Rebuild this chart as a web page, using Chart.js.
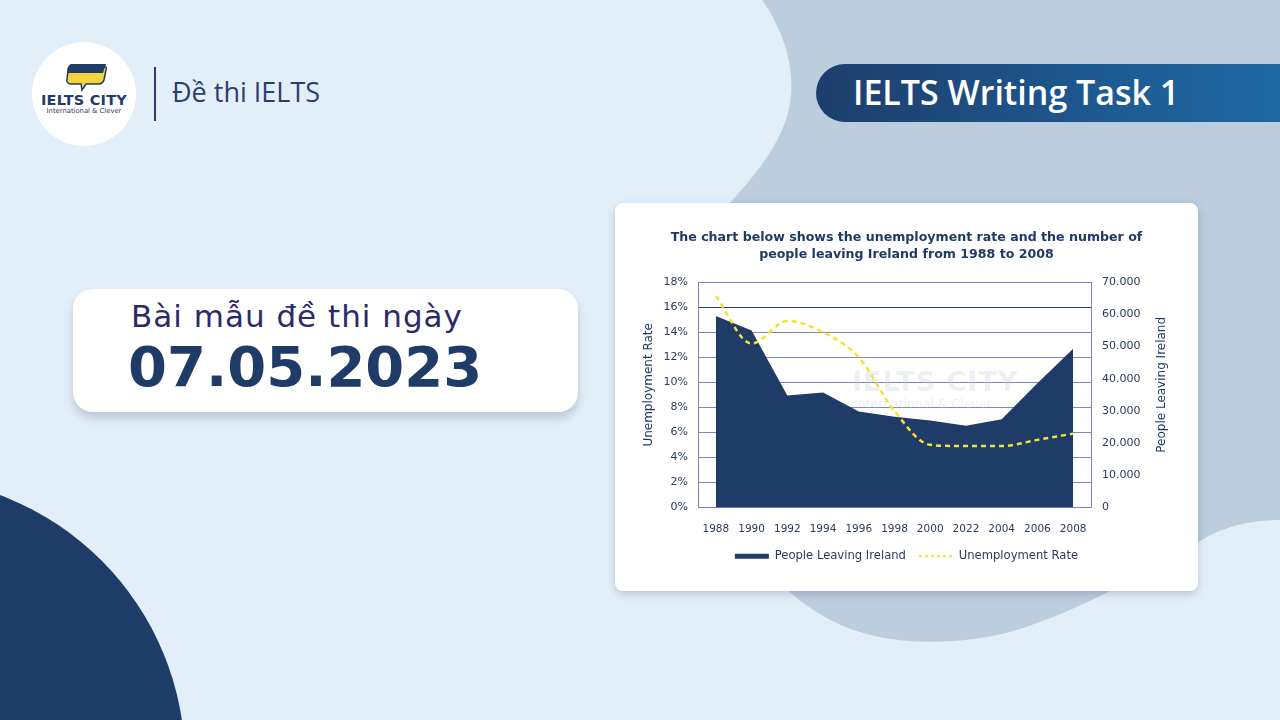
<!DOCTYPE html>
<html><head><meta charset="utf-8">
<script src="https://cdn.jsdelivr.net/npm/chart.js@4.4.0/dist/chart.umd.min.js"></script>
<style>
html,body{margin:0;padding:0;width:1280px;height:720px;overflow:hidden;background:#e3eff8;font-family:"DejaVu Sans",sans-serif;}
.abs{position:absolute;}
#bg{position:absolute;left:0;top:0;}
#logo{left:32px;top:42px;width:104px;height:104px;border-radius:50%;background:#fff;}
#logoText1{left:32px;width:104px;top:92px;text-align:center;font-weight:bold;font-size:14.5px;color:#1f3c68;letter-spacing:0.2px;}
#logoText2{left:32px;width:104px;top:107px;text-align:center;font-size:6.8px;color:#1f3c68;}
#divider{left:154px;top:67px;width:1.5px;height:54px;background:#2a3f6f;}
#sub{left:172px;top:75px;font-family:"Open Sans",sans-serif;font-size:27px;color:#2a3f6f;line-height:34px;}
#banner{left:816px;top:64px;width:500px;height:58px;border-radius:29px 0 0 29px;background:linear-gradient(90deg,#1d3d6b 0%,#1e5b93 60%,#1e6aa6 100%);}
#bannerText{left:853px;top:63px;height:58px;line-height:58px;font-family:"Open Sans",sans-serif;font-weight:600;font-size:34px;color:#fff;}
#dateCard{left:73px;top:289px;width:505px;height:123px;border-radius:20px;background:#fff;box-shadow:0 6px 10px rgba(40,60,90,0.22);}
#dateLine1{left:131px;top:296px;font-size:31px;color:#2c2a68;line-height:40px;letter-spacing:1px;}
#dateLine2{left:128px;top:334px;font-size:56px;font-weight:bold;color:#1f3c68;line-height:66px;}
#card{left:615px;top:203px;width:583px;height:388px;border-radius:8px;background:#fff;box-shadow:0 3px 8px rgba(30,50,80,0.22);}
#chartWrap{left:615px;top:203px;width:583px;height:388px;}
#wm1{left:852px;top:366px;font-weight:bold;font-size:27px;color:rgba(190,196,210,0.28);letter-spacing:1px;}
#wm2{left:854px;top:396px;font-size:12.5px;color:rgba(190,196,210,0.28);}
</style></head>
<body>
<svg id="bg" width="1280" height="720">
  <path d="M762,0 C780,25 794,60 791,95 C788,135 760,170 728,205 L700,420 C720,540 790,610 860,632 C900,645 960,645 1010,632 C1080,612 1160,565 1205,538 C1230,524 1255,520 1280,520 L1280,0 Z" fill="#bccddd"/>
  <circle cx="-100" cy="762" r="285" fill="#1e3c68"/>
</svg>
<div id="logo" class="abs"></div>
<svg class="abs" style="left:62px;top:60px" width="48" height="34">
  <path d="M6,10 C6,7 8,6 11,6 L42,6 C44,6 45,8 44,10 L42,20 C41,23 39,24 36,24 L24,24 L20,30 L19,24 L9,24 C6,24 4,22 5,19 Z" fill="#f5d33a" stroke="#1f3c68" stroke-width="1.5"/>
  <path d="M9,4 L44,4 L41,13 L6,13 C5,9 6,5 9,4 Z" fill="#1f3c68"/>
</svg>
<div id="logoText1" class="abs">IELTS CITY</div>
<div id="logoText2" class="abs">International &amp; Clever</div>
<div id="divider" class="abs"></div>
<div id="sub" class="abs">Đề thi IELTS</div>
<div id="banner" class="abs"></div>
<div id="bannerText" class="abs">IELTS Writing Task 1</div>
<div id="dateCard" class="abs"></div>
<div id="dateLine1" class="abs">Bài mẫu đề thi ngày</div>
<div id="dateLine2" class="abs">07.05.2023</div>
<div id="card" class="abs"></div>
<div id="chartWrap" class="abs"><canvas id="c" width="583" height="388"></canvas></div>
<div id="wm1" class="abs">IELTS CITY</div>
<div id="wm2" class="abs">International &amp; Clever</div>
<script>
const years = ['1988','1990','1992','1994','1996','1998','2000','2022','2004','2006','2008'];
const peopleLeaving = [59500, 55000, 34800, 35700, 29800, 28200, 27000, 25400, 27400, 38600, 49300];
const unemploymentRate = [16.9, 13.1, 14.9, 14.0, 12.0, 7.7, 5.0, 4.9, 4.9, 5.4, 5.9];
const seriesNames = ['People Leaving Ireland', 'Unemployment Rate'];
const chartTitle = ['The chart below shows the unemployment rate and the number of', 'people leaving Ireland from 1988 to 2008'];
const leftAxisTitle = 'Unemployment Rate';
const rightAxisTitle = 'People Leaving Ireland';

const NAVY = '#1f3b68';
const YELLOW = '#f4e232';
const GRID = '#7d85bf';
const GRID_DARK = '#2e3c84';
const TEXT = '#2b3a5e';
const TITLE = '#1e3a66';
const FONT = '"DejaVu Sans", sans-serif';

function dotThousands(v){ return String(v).replace(/\B(?=(\d{3})+(?!\d))/g, '.'); }

const axisTitlePlugin = {
  id: 'axisTitles',
  afterDraw(chart){
    const c = chart.ctx, a = chart.chartArea;
    const cy = (a.top + a.bottom) / 2 - 10;
    c.save();
    c.fillStyle = TITLE;
    c.font = '12px ' + FONT;
    c.textAlign = 'center';
    c.textBaseline = 'middle';
    [[chart.scales.y.left + 34, leftAxisTitle], [chart.scales.y1.right - 36, rightAxisTitle]].forEach(([x, t]) => {
      c.save(); c.translate(x, cy); c.rotate(-Math.PI / 2); c.fillText(t, 0, 0); c.restore();
    });
    c.restore();
  }
};

new Chart(document.getElementById('c'), {
  type: 'line',
  data: {
    labels: years,
    datasets: [
      { label: seriesNames[0], data: peopleLeaving, yAxisID: 'y1', fill: 'origin', backgroundColor: NAVY, borderColor: NAVY, borderWidth: 0, pointRadius: 0, tension: 0 },
      { label: seriesNames[1], data: unemploymentRate, yAxisID: 'y', fill: false, borderColor: YELLOW, borderWidth: 2.5, borderDash: [5, 4], pointRadius: 0, cubicInterpolationMode: 'monotone' }
    ]
  },
  options: {
    responsive: false,
    animation: false,
    devicePixelRatio: 1,
    layout: { padding: { left: 0, right: 0, top: 0, bottom: 19 } },
    plugins: {
      filler: { drawTime: 'beforeDatasetsDraw' },
      tooltip: { enabled: false },
      title: { display: true, text: chartTitle, color: TITLE, font: { family: FONT, size: 12.6, weight: 'bold', lineHeight: 1.36 }, padding: { top: 26, bottom: 19 } },
      legend: {
        position: 'bottom',
        labels: {
          usePointStyle: true, pointStyle: 'line', pointStyleWidth: 34, boxHeight: 9,
          font: { family: FONT, size: 11.6 }, color: TEXT, padding: 13,
          generateLabels(chart){
            return chart.data.datasets.map((ds, i) => ({
              text: ds.label, fillStyle: ds.borderColor, strokeStyle: ds.borderColor,
              lineWidth: i === 0 ? 5 : 2, lineDash: i === 0 ? [] : [3, 3], pointStyle: 'line',
              datasetIndex: i, hidden: false, fontColor: TEXT
            }));
          }
        }
      }
    },
    scales: {
      x: {
        offset: true,
        grid: { display: false }, border: { display: false },
        ticks: { font: { family: FONT, size: 10.5 }, color: TEXT, padding: 8, maxRotation: 0, autoSkip: false },
        afterFit(s){ s.height = 30; }
      },
      y: {
        position: 'left', min: 0, max: 18,
        ticks: { stepSize: 2, callback: v => v + '%', font: { family: FONT, size: 11 }, color: TEXT, padding: 10 },
        grid: { color: ctx => ctx.tick && ctx.tick.value === 16 ? GRID_DARK : GRID, drawTicks: false, lineWidth: 1 },
        border: { color: GRID },
        afterFit(s){ s.width = 83; }
      },
      y1: {
        position: 'right', min: 0, max: 70000,
        ticks: { stepSize: 10000, callback: v => dotThousands(v), font: { family: FONT, size: 11 }, color: TEXT, padding: 11 },
        grid: { drawOnChartArea: false, drawTicks: false },
        border: { color: GRID },
        afterFit(s){ s.width = 107; }
      }
    }
  },
  plugins: [axisTitlePlugin]
});
</script>
</body></html>
